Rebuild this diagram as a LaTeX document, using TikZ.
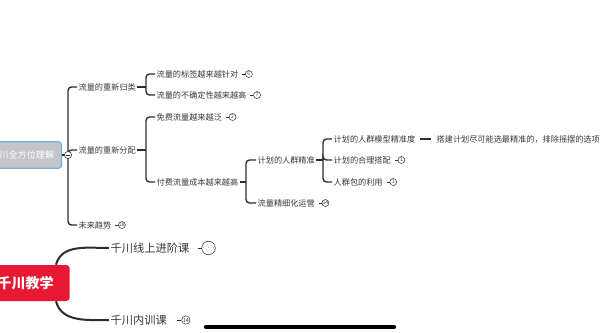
\documentclass[tikz,border=0pt]{standalone}
\usepackage{fontspec}
\setmainfont{Noto Sans CJK SC}
\usetikzlibrary{arrows.meta,positioning,calc}
\definecolor{linkgray}{RGB}{45,45,45}
\definecolor{textgray}{RGB}{55,55,55}
\definecolor{rootfill}{RGB}{196,197,202}
\definecolor{rootblue}{RGB}{110,175,225}
\definecolor{teachred}{RGB}{232,24,52}
\tikzset{
  topic/.style={anchor=west, inner sep=1pt, text=textgray,
    font=\fontsize{5.8}{7}\selectfont},
  bigtopic/.style={anchor=west, inner sep=1pt, text=textgray,
    font=\fontsize{8}{9}\selectfont},
  rootbox/.style={rectangle, rounded corners=2pt, draw=rootblue, line width=0.8pt,
    fill=rootfill, text=white, minimum height=6.6mm, inner xsep=1.8mm,
    font=\fontsize{6.5}{7}\selectfont},
  teachbox/.style={rectangle, rounded corners=2.5pt, fill=teachred, text=white,
    minimum height=9mm, inner xsep=4mm, font=\fontsize{10}{11}\selectfont\bfseries},
  badge/.style={circle, draw=linkgray, fill=white, line width=0.35pt,
    minimum size=1.75mm, inner sep=0pt, text=textgray,
    font=\fontsize{3.6}{4}\selectfont},
  bigbadge/.style={badge, minimum size=2.1mm, font=\fontsize{4}{4.5}\selectfont},
  fold/.style={circle, draw=linkgray, fill=white, line width=0.4pt,
    minimum size=1.8mm, inner sep=0pt},
  link/.style={draw=linkgray, line width=0.35mm, rounded corners=2.5pt},
  thinlink/.style={draw=linkgray, line width=0.3pt},
  curvelink/.style={draw=linkgray, line width=0.5mm}
}

\begin{document}
\begin{tikzpicture}[x=0.025cm, y=-0.025cm]
  \useasboundingbox (0,0) rectangle (600,332);
  \clip (0,0) rectangle (600,332);

  % --- root ---
  \node[rootbox, anchor=east] (root) at (62,155) {千川全方位理解};
  \coordinate (hub) at (68,155);

  % --- first level ---
  \node[topic] (cls)   at (77,87)  {流量的重新归类};
  \node[topic] (dist)  at (77,150) {流量的重新分配};
  \node[topic] (trend) at (77,225) {未来趋势};
  \node[badge, right=1.3mm of trend] (btrend) {28};

  % --- second level ---
  \node[topic] (tag)  at (155,74)  {流量的标签越来越针对};
  \node[topic] (unc)  at (155,95)  {流量的不确定性越来越高};
  \node[topic] (free) at (155,117) {免费流量越来越泛};
  \node[topic] (paid) at (155,182) {付费流量成本越来越高};
  \node[badge, right=1.3mm of tag]  (btag)  {6};
  \node[badge, right=1.3mm of unc]  (bunc)  {7};
  \node[badge, right=1.3mm of free] (bfree) {2};

  % --- third level ---
  \node[topic] (crowd) at (256,160) {计划的人群精准};
  \node[topic] (fine)  at (256,203) {流量精细化运营};
  \node[badge, right=1.3mm of fine] (bfine) {14};

  \node[topic] (model) at (332,139) {计划的人群模型精准度};
  \node[topic] (combo) at (332,160) {计划的合理搭配};
  \node[topic] (pack)  at (332,182) {人群包的利用};
  \node[topic] (build) at (435,139) {搭建计划尽可能选最精准的，排除摇摆的选项};
  \node[badge, right=1.3mm of combo] (bcombo) {1};
  \node[badge, right=1.3mm of pack]  (bpack)  {1};

  % --- bottom branch ---
  \node[teachbox, anchor=east] (teach) at (70,283) {千川教学};
  \node[bigtopic] (online) at (109,248) {千川线上进阶课};
  \node[bigtopic] (inner)  at (109,320) {千川内训课};
  \node[bigbadge, right=2.6mm of online] (bonline) {$\cdots$};
  \node[bigbadge, right=3.2mm of inner]  (binner)  {14};

  % ---------------- edges ----------------
  \draw[link] (root.east) -- (hub);
  \draw[link] (hub) |- (cls.west);
  \draw[link] (hub) |- (dist.west);
  \draw[link] (hub) |- (trend.west);
  \node[fold] (rootfold) at (hub) {};
  \draw[thinlink] ([xshift=-0.5mm]rootfold.center) -- ([xshift=0.5mm]rootfold.center);

  % classify bracket
  \coordinate (clsb) at (146,87);
  \draw[link] (cls.east) -- (clsb);
  \draw[link] (clsb) |- (tag.west);
  \draw[link] (clsb) |- (unc.west);

  % distribute bracket
  \coordinate (distb) at (146,150);
  \draw[link] (dist.east) -- (distb);
  \draw[link] (distb) |- (free.west);
  \draw[link] (distb) |- (paid.west);

  % paid bracket
  \coordinate (paidb) at (246,182);
  \draw[link] (paid.east) -- (paidb);
  \draw[link] (paidb) |- (crowd.west);
  \draw[link] (paidb) |- (fine.west);

  % crowd bracket
  \coordinate (crowdb) at (323,160);
  \draw[link] (crowd.east) -- (crowdb);
  \draw[link] (crowdb) |- (model.west);
  \draw[link] (crowdb) |- (combo.west);
  \draw[link] (crowdb) |- (pack.west);

  \draw[link, shorten <=0.8mm, shorten >=1mm] (model.east) -- (build.west);

  % badge ticks
  \foreach \lbl/\bdg in {trend/btrend, tag/btag, unc/bunc, free/bfree,
                         fine/bfine, combo/bcombo, pack/bpack} {
    \draw[thinlink, shorten <=0.6mm] (\lbl.east) -- (\bdg.west);
  }
  \draw[thinlink, shorten <=1.7mm] (online.east) -- (bonline.west);
  \draw[thinlink, shorten <=2.2mm] (inner.east) -- (binner.west);

  % teaching curves
  \draw[curvelink] ([xshift=-3.5mm]teach.north east) to[out=75, in=180] (online.west);
  \draw[curvelink] ([xshift=-3.5mm]teach.south east) to[out=-75, in=180] (inner.west);

  % bottom bar
  \draw[line width=1.1mm, line cap=round] (206,327) -- (394,327);

\end{tikzpicture}
\end{document}
